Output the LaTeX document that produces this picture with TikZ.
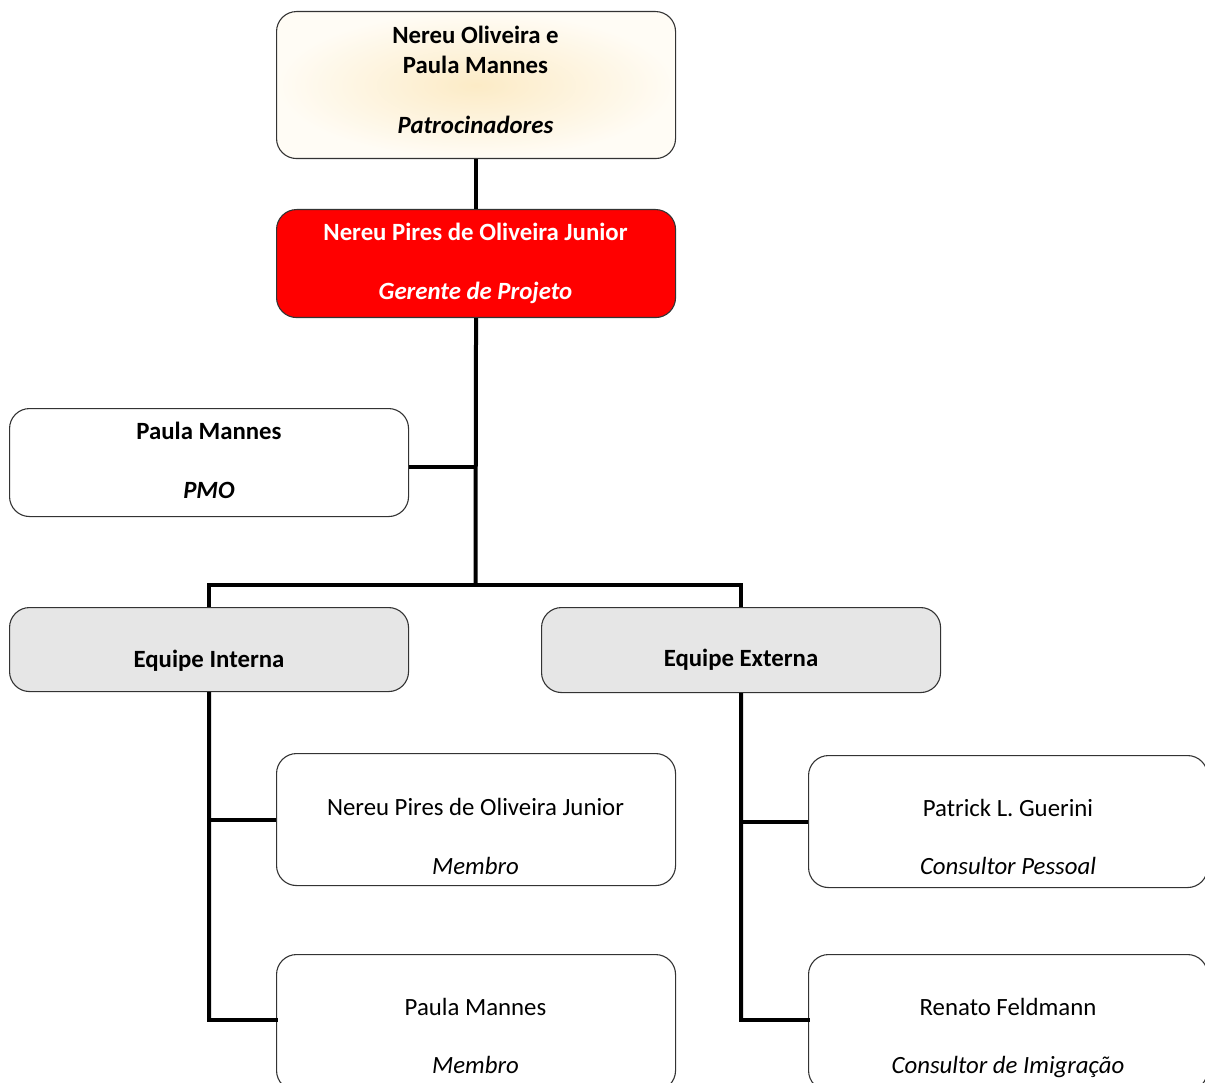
\documentclass[tikz,border=0pt]{standalone}
\usepackage{fontspec}
\setmainfont{Carlito}
\definecolor{cream}{HTML}{FCEBC6}
\definecolor{creamedge}{HTML}{FFFCF5}
\definecolor{teamgray}{HTML}{E6E6E6}
\begin{document}
\begin{tikzpicture}[x=1pt,y=-1pt,
  box/.style={draw=black!80, line width=1.1pt, rounded corners=20pt,
    minimum width=399pt, anchor=north west, inner sep=0pt, fill=white},
  conn/.style={line width=4pt, black},
  txt/.style={font=\fontsize{24.8}{29}\selectfont, inner sep=0pt, anchor=base},
  nametxt/.style={txt, font=\fontsize{24.8}{29}\selectfont\bfseries},
  roletxt/.style={txt, font=\fontsize{24.8}{29}\selectfont\bfseries\itshape},
  plainrole/.style={txt, font=\fontsize{24.8}{29}\selectfont\itshape}]
\useasboundingbox (0,0) rectangle (1205,1083);
\clip (0,0) rectangle (1205,1083);

% boxes
\node[box, minimum height=147pt, shade, inner color=cream, outer color=creamedge] (spons) at (276,11) {};
\node[box, minimum height=108pt, fill=red] (pm) at (276,209) {};
\node[box, minimum height=108pt] (pmo) at (9,408) {};
\node[box, minimum height=84pt, fill=teamgray] (inner) at (9,607) {};
\node[box, minimum height=85pt, fill=teamgray] (outer) at (541,607) {};
\node[box, minimum height=132pt] (m1) at (276,753) {};
\node[box, minimum height=136pt] (m2) at (276,954) {};
\node[box, minimum height=132pt] (c1) at (808,755) {};
\node[box, minimum height=136pt] (c2) at (808,954) {};

% texts
\node[nametxt] (sponsA) at (475.5,43.5) {Nereu Oliveira e};
\node[nametxt] (sponsB) at (475.5,73.5) {Paula Mannes};
\node[roletxt] (sponsR) at (475.5,133.5) {Patrocinadores};
\node[nametxt, text=white] (pmA) at (475.5,241) {Nereu Pires de Oliveira Junior};
\node[roletxt, text=white] (pmR) at (475.5,300) {Gerente de Projeto};
\node[nametxt] (pmoA) at (209,439) {Paula Mannes};
\node[roletxt] (pmoR) at (209,498) {PMO};
\node[nametxt] (innerA) at (209,667) {Equipe Interna};
\node[nametxt] (outerA) at (741,666) {Equipe Externa};
\node[txt] (m1A) at (475.5,815) {Nereu Pires de Oliveira Junior};
\node[plainrole] (m1R) at (475.5,874) {Membro};
\node[txt] (m2A) at (475.5,1015) {Paula Mannes};
\node[plainrole] (m2R) at (475.5,1073) {Membro};
\node[txt] (c1A) at (1008,816) {Patrick L. Guerini};
\node[plainrole] (c1R) at (1008,874) {Consultor Pessoal};
\node[txt] (c2A) at (1008,1015) {Renato Feldmann};
\node[plainrole] (c2R) at (1008,1073) {Consultor de Imigração};

% junction points
\coordinate (bus) at (475.5,585);
\coordinate (pmoJ) at (475.5,467);
\coordinate (busL) at (209,585);
\coordinate (busR) at (741,585);
\coordinate (innerEnd) at (209,1020);
\coordinate (outerEnd) at (741,1020);

% connectors
\draw[conn] (spons.south) -- (pm.north);
\draw[conn] (pm.south) -- (bus);
\draw[conn] (pmoJ -| pmo.east) -- (pmoJ);
\draw[conn, line cap=rect] (busL) -- (busR);
\draw[conn] (busL) -- (busL |- inner.north);
\draw[conn] (busR) -- (busR |- outer.north);
\draw[conn] (inner.south) -- (innerEnd);
\draw[conn] (outer.south) -- (outerEnd);
\draw[conn] (inner.south |- m1.west) -- (m1.west);
\draw[conn, line cap=rect] (innerEnd) -- (innerEnd -| m2.west);
\draw[conn] (outer.south |- c1.west) -- (c1.west);
\draw[conn, line cap=rect] (outerEnd) -- (outerEnd -| c2.west);
\end{tikzpicture}
\end{document}
